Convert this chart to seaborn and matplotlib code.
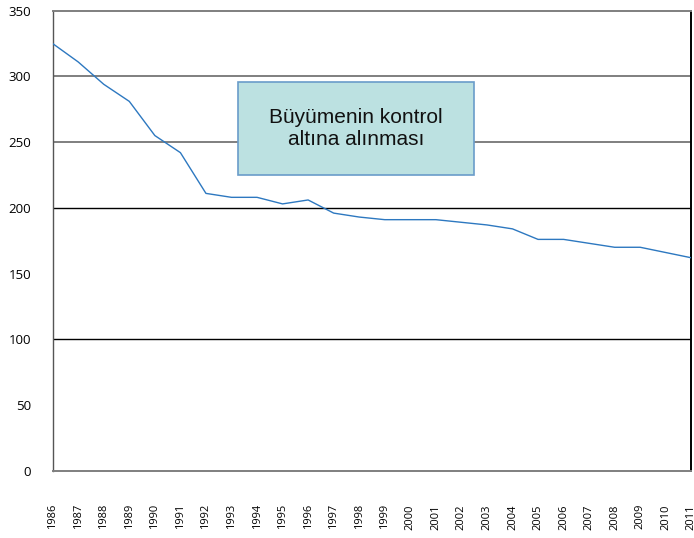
import matplotlib
matplotlib.use("Agg")
import matplotlib.pyplot as plt
from matplotlib.patches import Rectangle
import seaborn as sns
import pandas as pd

# Annual series, 1986-2011
years = [1986, 1987, 1988, 1989, 1990, 1991, 1992, 1993, 1994, 1995, 1996, 1997, 1998,
         1999, 2000, 2001, 2002, 2003, 2004, 2005, 2006, 2007, 2008, 2009, 2010, 2011]
values = [325, 311, 294, 281, 255, 242, 211, 208, 208, 203, 206, 196, 193,
          191, 191, 191, 189, 187, 184, 176, 176, 173, 170, 170, 166, 162]
y_ticks = [0, 50, 100, 150, 200, 250, 300, 350]
gray_lines = [250, 300]
black_lines = [100, 200]
note_text = "Büyümenin kontrol\naltına alınması"

df = pd.DataFrame({"year": years, "value": values})

sns.set_style("white")
plt.rcParams["font.family"] = ["Open Sans", "DejaVu Sans"]

fig = plt.figure(figsize=(6.94, 5.38), dpi=100)
ax = fig.add_axes([0.0759, 0.1251, 0.9961 - 0.0759, 0.9801 - 0.1251])

for v in gray_lines:
    ax.axhline(v, color="#7f7f7f", lw=1.4, zorder=1)
for v in black_lines:
    ax.axhline(v, color="black", lw=1.0, zorder=1)

sns.lineplot(data=df, x="year", y="value", ax=ax, color="#2d78c0", lw=1.0, zorder=3)

ax.set_xlim(years[0], years[-1])
ax.set_ylim(y_ticks[0], y_ticks[-1])
ax.set_xticks(years)
ax.set_xticklabels([str(y) for y in years], rotation=90, fontsize=8)
ax.set_yticks(y_ticks)
ax.set_yticklabels([str(t) for t in y_ticks], fontsize=9.5)
ax.tick_params(axis="x", length=0, pad=24, labelcolor="black")
ax.tick_params(axis="y", length=0, pad=15.5, labelcolor="black")
ax.set_xlabel("")
ax.set_ylabel("")

ax.spines["top"].set_color("#7f7f7f")
ax.spines["top"].set_linewidth(1.4)
ax.spines["bottom"].set_color("#7f7f7f")
ax.spines["bottom"].set_linewidth(1.4)
ax.spines["left"].set_color("#555555")
ax.spines["left"].set_linewidth(1.0)
ax.spines["right"].set_color("black")
ax.spines["right"].set_linewidth(1.4)

# Annotation box
box = Rectangle((1993.24, 225), 9.26, 70.8, facecolor="#bce1e1", edgecolor="#6a9cc9",
                lw=1.2, zorder=5)
ax.add_patch(box)
ax.text(1993.24 + 9.26 / 2, 225 + 70.8 / 2, note_text, ha="center", va="center",
        fontsize=15, family=["Liberation Sans", "DejaVu Sans"], color="#111111",
        linespacing=1.2, zorder=6)

fig.savefig("out.png", dpi=100)
